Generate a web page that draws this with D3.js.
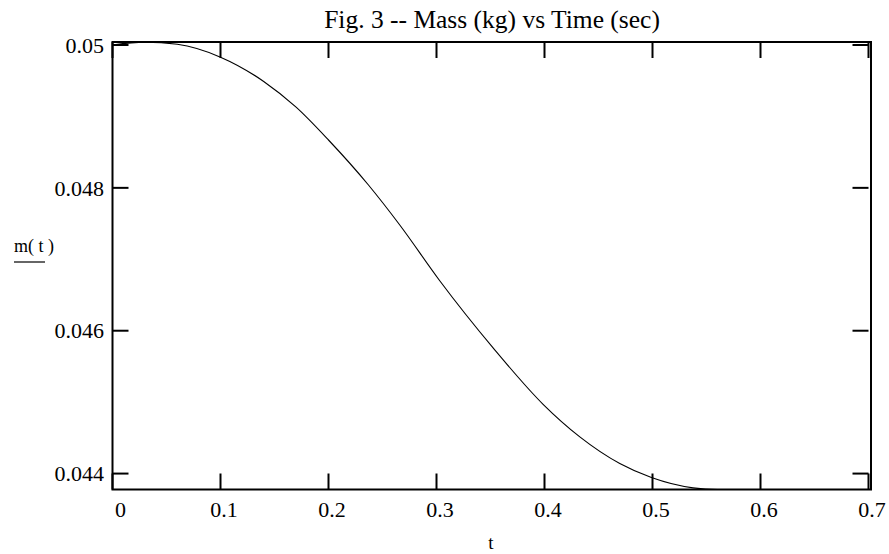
<!DOCTYPE html>
<html>
<head>
<meta charset="utf-8">
<script src="https://cdn.jsdelivr.net/npm/d3@7/dist/d3.min.js"></script>
<style>
  body { margin: 0; background: #fff; }
  text { font-family: "Liberation Serif", "Times New Roman", serif; fill: #000; }
</style>
</head>
<body>
<svg width="889" height="554"></svg>
<script>
// time (sec) and mass (kg)
var tVals = [0, 0.03, 0.06, 0.1, 0.14, 0.17, 0.2, 0.237, 0.266, 0.303, 0.3524, 0.3987, 0.4327, 0.4697, 0.499, 0.5376, 0.56, 0.6, 0.65, 0.7];
var mVals = [0.05, 0.05004, 0.05001, 0.04983, 0.04949, 0.04913, 0.04867, 0.04804, 0.04748, 0.0467, 0.04576, 0.04497, 0.044514, 0.044141, 0.043945, 0.0438, 0.043777, 0.043777, 0.043777, 0.043777];

var xTicks = [0, 0.1, 0.2, 0.3, 0.4, 0.5, 0.6, 0.7];
var yTicks = [0.044, 0.046, 0.048, 0.05];
var xLimits = [0, 0.7];
var yLimits = [0.043777, 0.050042];

var title = "Fig. 3 -- Mass (kg) vs Time (sec)";
var xLabel = "t";
var yLabel = "m( t )";

var svg = d3.select("svg");

var x = d3.scaleLinear().domain(xLimits).range([112.5, 868.5]);
var y = d3.scaleLinear().domain(yLimits).range([489.5, 42]);

var frameL = x(xLimits[0]), frameR = x(xLimits[1]) + 2.5,
    frameT = y(yLimits[1]), frameB = y(yLimits[0]);

var data = tVals.map(function(t, i) { return {t: t, m: mVals[i]}; });

// curve
var line = d3.line()
    .x(function(d) { return x(d.t); })
    .y(function(d) { return y(d.m); })
    .curve(d3.curveMonotoneX);

svg.append("path")
    .datum(data)
    .attr("d", line)
    .attr("fill", "none")
    .attr("stroke", "#000")
    .attr("stroke-width", 1.1);

// frame
svg.append("rect")
    .attr("x", frameL).attr("y", frameT)
    .attr("width", frameR - frameL).attr("height", frameB - frameT)
    .attr("fill", "none")
    .attr("stroke", "#000")
    .attr("stroke-width", 2);

var tickLen = 16;

// x ticks, bottom and top, pointing in
svg.selectAll(".xtb").data(xTicks).enter().append("line")
    .attr("x1", function(d) { return x(d); }).attr("x2", function(d) { return x(d); })
    .attr("y1", frameB).attr("y2", frameB - tickLen)
    .attr("stroke", "#000").attr("stroke-width", 2);
svg.selectAll(".xtt").data(xTicks).enter().append("line")
    .attr("x1", function(d) { return x(d); }).attr("x2", function(d) { return x(d); })
    .attr("y1", frameT).attr("y2", frameT + tickLen)
    .attr("stroke", "#000").attr("stroke-width", 2);

// y ticks, left and right
svg.selectAll(".ytl").data(yTicks).enter().append("line")
    .attr("x1", frameL).attr("x2", frameL + tickLen)
    .attr("y1", function(d) { return y(d); }).attr("y2", function(d) { return y(d); })
    .attr("stroke", "#000").attr("stroke-width", 2);
svg.selectAll(".ytr").data(yTicks).enter().append("line")
    .attr("x1", x(xLimits[1])).attr("x2", x(xLimits[1]) - tickLen)
    .attr("y1", function(d) { return y(d); }).attr("y2", function(d) { return y(d); })
    .attr("stroke", "#000").attr("stroke-width", 2);

// tick labels
svg.selectAll(".xl").data(xTicks).enter().append("text")
    .attr("x", function(d) { return x(d) + (d === 0 ? 8 : 3.5); })
    .attr("y", 517)
    .attr("text-anchor", "middle")
    .attr("font-size", 22)
    .text(function(d) { return d3.format("")(d); });

svg.selectAll(".yl").data(yTicks).enter().append("text")
    .attr("x", 104)
    .attr("y", function(d) { return y(d); })
    .attr("dy", "0.35em")
    .attr("text-anchor", "end")
    .attr("font-size", 22)
    .text(function(d) { return d3.format("")(d); });

// title and axis labels
svg.append("text")
    .attr("x", 492).attr("y", 28)
    .attr("text-anchor", "middle")
    .attr("font-size", 25.5)
    .text(title);

svg.append("text")
    .attr("x", 491).attr("y", 549)
    .attr("text-anchor", "middle")
    .attr("font-size", 19)
    .text(xLabel);

svg.append("text")
    .attr("x", 14).attr("y", 252)
    .attr("font-size", 18)
    .text(yLabel);
svg.append("line")
    .attr("x1", 14).attr("x2", 45)
    .attr("y1", 262).attr("y2", 262)
    .attr("stroke", "#000").attr("stroke-width", 1.2);
</script>
</body>
</html>
